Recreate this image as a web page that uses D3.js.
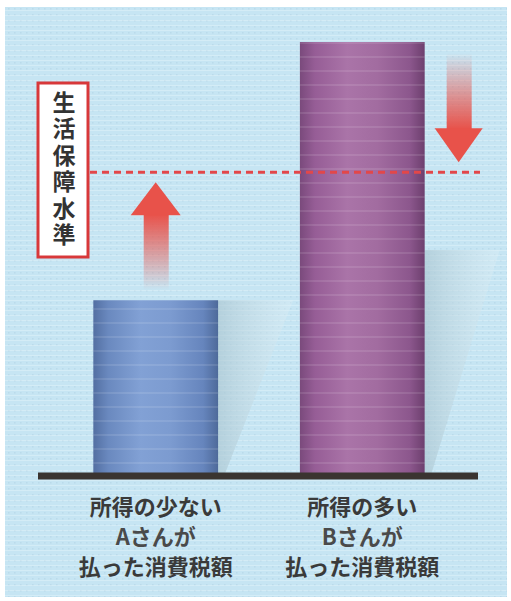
<!DOCTYPE html>
<html><head><meta charset="utf-8">
<script src="https://cdn.jsdelivr.net/npm/d3@7"></script>
<style>html,body{margin:0;padding:0;background:#fff;}svg{display:block;}</style>
</head><body>
<script>
// ---- data ----
const categories = ["A", "B"];
const values = [40.5, 100];
const livingLevel = 70;
const labelLines = [
  ["所得の少ない", "Aさんが", "払った消費税額"],
  ["所得の多い", "Bさんが", "払った消費税額"]
];
const levelLabel = "生活保障水準";

const W = 511, H = 601;
const svg = d3.select("body").append("svg").attr("width", W).attr("height", H);
const defs = svg.append("defs");
const font = "'Noto Sans CJK JP','Noto Sans CJK SC',sans-serif";

// scales
const x = d3.scaleBand().domain(categories).range([52, 466]).paddingInner(0.396).paddingOuter(0.2);
const y = d3.scaleLinear().domain([0, 100]).range([476, 42]);

// background panel + patterns
const dots = defs.append("pattern").attr("id", "dots").attr("patternUnits", "userSpaceOnUse")
  .attr("width", 6).attr("height", 6);
dots.append("rect").attr("x", 2).attr("y", 2).attr("width", 1.6).attr("height", 1.6).attr("fill", "#9fc4d8").attr("opacity", 0.5);
const lines = defs.append("pattern").attr("id", "hlines").attr("patternUnits", "userSpaceOnUse")
  .attr("width", 8).attr("height", 5);
lines.append("rect").attr("x", 0).attr("y", 0).attr("width", 8).attr("height", 1).attr("fill", "#ffffff").attr("opacity", 0.25);

svg.append("rect").attr("x", 5).attr("y", 7).attr("width", 502).attr("height", 590).attr("fill", "#c6e5f3");
svg.append("rect").attr("x", 5).attr("y", 7).attr("width", 502).attr("height", 590).attr("fill", "url(#dots)").attr("opacity", 0.6);
svg.append("rect").attr("x", 5).attr("y", 7).attr("width", 502).attr("height", 590).attr("fill", "url(#hlines)");

// bar gradients
const grads = [
  ["gA", ["#536fa2", "#6a89bf", "#82a1d5", "#7c9bd0", "#6685bd", "#4e6a9a"]],
  ["gB", ["#7a4a7c", "#965d96", "#aa74a8", "#a26ca0", "#8c578d", "#6d3f6e"]]
];
grads.forEach(([id, cols]) => {
  const g = defs.append("linearGradient").attr("id", id).attr("x1", 0).attr("x2", 1).attr("y1", 0).attr("y2", 0);
  const offs = [0, 0.12, 0.38, 0.62, 0.88, 1];
  cols.forEach((c, i) => g.append("stop").attr("offset", offs[i]).attr("stop-color", c));
});
const barStripes = defs.append("pattern").attr("id", "bstripes").attr("patternUnits", "userSpaceOnUse")
  .attr("width", 10).attr("height", 14);
barStripes.append("rect").attr("x", 0).attr("y", 0).attr("width", 10).attr("height", 2).attr("fill", "#ffffff").attr("opacity", 0.1);

// shadows behind bars
const shadowG = defs.append("linearGradient").attr("id", "shadow").attr("x1", 0).attr("x2", 1).attr("y1", 0).attr("y2", 0);
shadowG.append("stop").attr("offset", 0).attr("stop-color", "#a9c4cf").attr("stop-opacity", 0.9);
shadowG.append("stop").attr("offset", 1).attr("stop-color", "#e2f1f7").attr("stop-opacity", 0.5);
categories.forEach((c, i) => {
  const r = x(c) + x.bandwidth();
  const top = Math.max(y(values[i]), 250);
  const pts = [[r, top], [r + 75, top], [r + 6, y(0)], [r, y(0)]];
  svg.append("path").attr("d", d3.line()(pts) + "Z").attr("fill", "url(#shadow)").attr("opacity", 0.7);
});

// bars
svg.selectAll("rect.bar").data(categories).join("rect").attr("class", "bar")
  .attr("x", d => x(d)).attr("width", x.bandwidth())
  .attr("y", (d, i) => y(values[i])).attr("height", (d, i) => y(0) - y(values[i]))
  .attr("fill", (d, i) => `url(#g${d})`);
svg.selectAll("rect.bars").data(categories).join("rect").attr("class", "bars")
  .attr("x", d => x(d)).attr("width", x.bandwidth())
  .attr("y", (d, i) => y(values[i])).attr("height", (d, i) => y(0) - y(values[i]))
  .attr("fill", "url(#bstripes)");

// baseline
svg.append("line").attr("x1", 38).attr("x2", 478).attr("y1", y(0)).attr("y2", y(0))
  .attr("stroke", "#3a3430").attr("stroke-width", 7);

// living level dashed line
svg.append("line").attr("x1", 90).attr("x2", 480).attr("y1", y(livingLevel)).attr("y2", y(livingLevel))
  .attr("stroke", "#e2474a").attr("stroke-width", 3).attr("stroke-dasharray", "7,5");

// arrows
const red = "#e8524a";
const upG = defs.append("linearGradient").attr("id", "upG").attr("x1", 0).attr("x2", 0).attr("y1", 0).attr("y2", 1);
upG.append("stop").attr("offset", 0).attr("stop-color", red).attr("stop-opacity", 1);
upG.append("stop").attr("offset", 1).attr("stop-color", red).attr("stop-opacity", 0);
const dnG = defs.append("linearGradient").attr("id", "dnG").attr("x1", 0).attr("x2", 0).attr("y1", 0).attr("y2", 1);
dnG.append("stop").attr("offset", 0).attr("stop-color", red).attr("stop-opacity", 0);
dnG.append("stop").attr("offset", 1).attr("stop-color", red).attr("stop-opacity", 1);

// up arrow (A)
const ax = x("A") + x.bandwidth() / 2;
const upTip = y(livingLevel) + 10, upHeadBase = upTip + 33, upEnd = y(values[0]) - 10;
svg.append("rect").attr("x", ax - 12).attr("y", upHeadBase - 1).attr("width", 25).attr("height", upEnd - upHeadBase + 1).attr("fill", "url(#upG)");
svg.append("path").attr("d", d3.line()([[ax - 25, upHeadBase], [ax, upTip], [ax + 25, upHeadBase]]) + "Z").attr("fill", red);

// down arrow (B)
const bx = x("B") + x.bandwidth() + 34;
const dnTip = y(livingLevel) - 10, dnHeadBase = dnTip - 34, dnStart = 53;
svg.append("rect").attr("x", bx - 12).attr("y", dnStart).attr("width", 25).attr("height", dnHeadBase - dnStart + 1).attr("fill", "url(#dnG)");
svg.append("path").attr("d", d3.line()([[bx - 24, dnHeadBase], [bx, dnTip], [bx + 24, dnHeadBase]]) + "Z").attr("fill", red);

// level label box (vertical text)
svg.append("rect").attr("x", 38).attr("y", 83).attr("width", 50).attr("height", 174)
  .attr("fill", "#ffffff").attr("stroke", "#d8383a").attr("stroke-width", 3);
svg.append("text").attr("x", 64).attr("y", 170)
  .attr("text-anchor", "middle")
  .style("writing-mode", "vertical-rl").style("text-orientation", "upright")
  .attr("letter-spacing", 3.4)
  .attr("font-family", font).attr("font-weight", 700).attr("font-size", 23).attr("fill", "#333")
  .text(levelLabel);

// category labels
categories.forEach((c, i) => {
  const cx = x(c) + x.bandwidth() / 2;
  labelLines[i].forEach((t, j) => {
    svg.append("text").attr("x", cx).attr("y", 505 + j * 30)
      .attr("text-anchor", "middle").attr("dominant-baseline", "central")
      .attr("font-family", font).attr("font-weight", 700).attr("font-size", 22)
      .attr("fill", j === 1 ? "#4a4a4a" : "#3a3a3a").text(t);
  });
});
</script>
</body></html>
